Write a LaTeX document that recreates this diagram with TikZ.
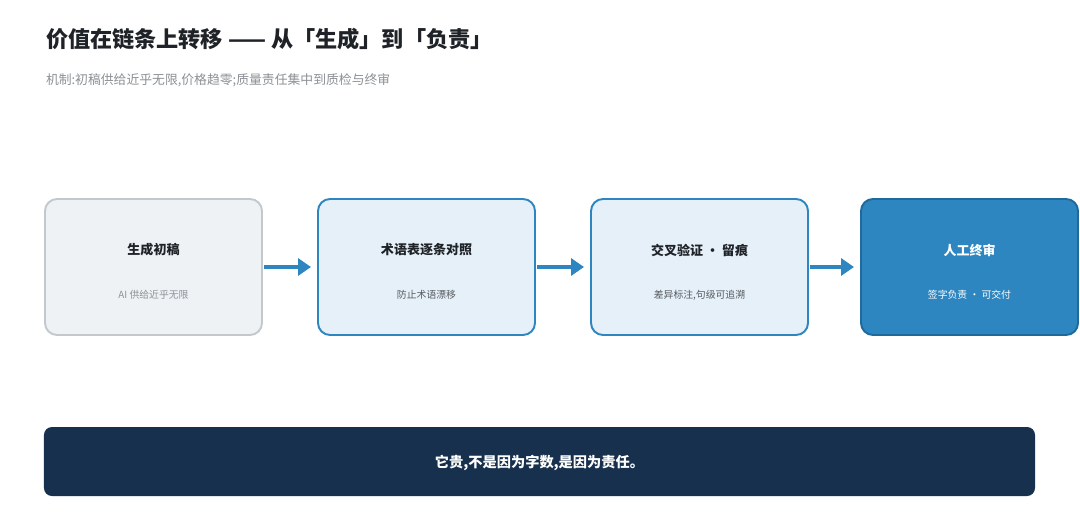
\documentclass[tikz,border=0pt]{standalone}
\usepackage{fontspec}
\setmainfont{Noto Sans CJK SC}
\usetikzlibrary{positioning,arrows.meta}
\definecolor{inkdark}{HTML}{1F2328}
\definecolor{inkgray}{HTML}{8C9196}
\definecolor{stepgray}{HTML}{EEF2F5}
\definecolor{stepgrayline}{HTML}{C3C8CD}
\definecolor{steplight}{HTML}{E6F0F9}
\definecolor{flowblue}{HTML}{2E86C1}
\definecolor{flowblueline}{HTML}{1F6A9C}
\definecolor{navy}{HTML}{17304D}
\tikzset{every node/.style={inner sep=0pt, outer sep=0pt},
  stagebox/.style={draw, line width=1.1pt, rounded corners=2.4mm, minimum width=43.4mm, minimum height=27.2mm},
  stagetitle/.style={font=\fontsize{7.4}{8}\selectfont\bfseries},
  stagenote/.style={font=\fontsize{5.6}{6.5}\selectfont},
  flowarrow/.style={flowblue, line width=0.85mm, -{Triangle[length=2.6mm,width=3.4mm]}}}

\begin{document}
\begin{tikzpicture}[x=0.2mm,y=-0.2mm]
   \useasboundingbox[fill=white] (0,0) rectangle (1080,525);
   \node[anchor=base west, inkdark, font=\fontsize{12.6}{14}\selectfont\bfseries] (title) at (46,47.5) {价值在链条上转移 —— 从「生成」到「负责」};
   \node[anchor=base west, inkgray, font=\fontsize{7.3}{8}\selectfont] (sub) at (46,84.5) {机制:初稿供给近乎无限,价格趋零;质量责任集中到质检与终审};

   \node[stagebox, draw=stepgrayline, fill=stepgray] (s1) at (153.5,267) {};
   \node[stagebox, draw=flowblue, fill=steplight, right=56 of s1] (s2) {};
   \node[stagebox, draw=flowblue, fill=steplight, right=56 of s2] (s3) {};
   \node[stagebox, draw=flowblueline, fill=flowblue, right=53 of s3] (s4) {};

   \node[stagetitle, inkdark] (s1t) at ([yshift=3.4mm]s1.center) {生成初稿};
   \node[stagenote, inkgray] (s1n) at ([yshift=-5.6mm]s1.center) {AI 供给近乎无限};
   \node[stagetitle, inkdark] (s2t) at ([yshift=3.4mm]s2.center) {术语表逐条对照};
   \node[stagenote, inkdark!75] (s2n) at ([yshift=-5.6mm]s2.center) {防止术语漂移};
   \node[stagetitle, inkdark] (s3t) at ([yshift=3.4mm]s3.center) {交叉验证 · 留痕};
   \node[stagenote, inkdark!75] (s3n) at ([yshift=-5.6mm]s3.center) {差异标注,句级可追溯};
   \node[stagetitle, white] (s4t) at ([yshift=3.4mm]s4.center) {人工终审};
   \node[stagenote, white] (s4n) at ([yshift=-5.6mm]s4.center) {签字负责 · 可交付};

   \draw[flowarrow] ([xshift=0.4mm]s1.east) -- ([xshift=-1.4mm]s2.west);
   \draw[flowarrow] ([xshift=0.4mm]s2.east) -- ([xshift=-1.4mm]s3.west);
   \draw[flowarrow] ([xshift=0.4mm]s3.east) -- ([xshift=-1.4mm]s4.west);

   \node[fill=navy, rounded corners=1.6mm, minimum width=198.2mm, minimum height=13.8mm] (verdict) at (539.5,461.5) {};
   \node[white, font=\fontsize{8.1}{9}\selectfont\bfseries] (verdictt) at ([yshift=-0.2mm]verdict.center) {它贵,不是因为字数,是因为责任。};
\end{tikzpicture}
\end{document}
